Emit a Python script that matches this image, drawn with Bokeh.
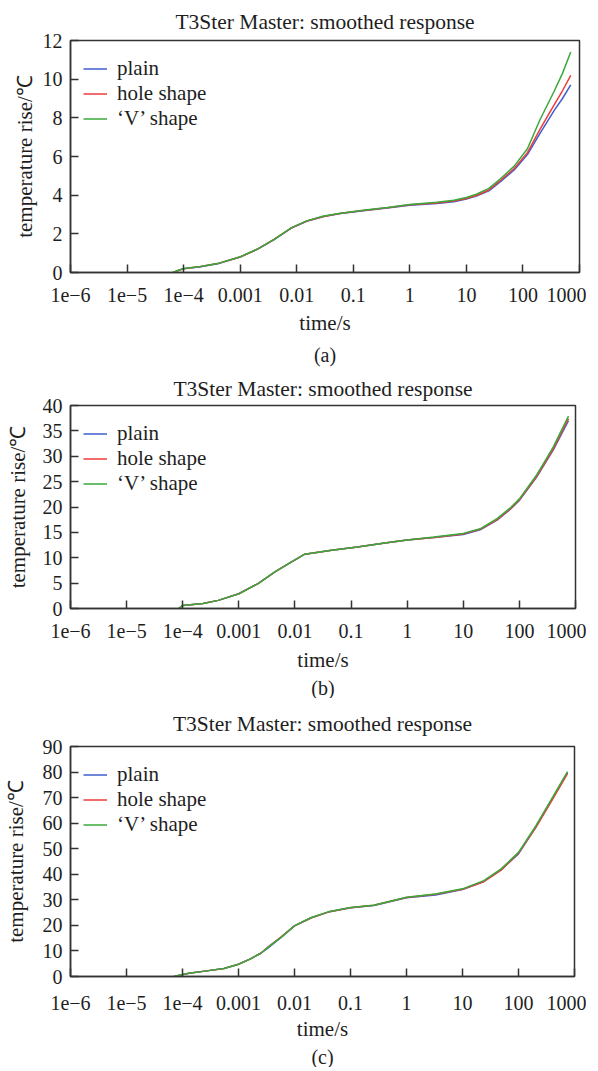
from bokeh.plotting import figure
from bokeh.layouts import column
from bokeh.models import FixedTicker, Title, CustomJSTickFormatter
from bokeh.embed import file_html
from bokeh.resources import INLINE

# ---------------- data ----------------
TITLE = "T3Ster Master: smoothed response"
SERIES = ["plain", "hole shape", "\u2018V\u2019 shape"]
COLORS = ["#3f5fcf", "#ee3b3b", "#3aa83a"]
X_TICKS = [1e-6, 1e-5, 1e-4, 1e-3, 1e-2, 1e-1, 1, 10, 100, 1000]
X_LABELS = ["1e\u22126", "1e\u22125", "1e\u22124", "0.001", "0.01", "0.1", "1", "10", "100", "1000"]
X_TITLE = "time/s"
Y_TITLE = "temperature rise/\u2103"
CAPTIONS = ["(a)", "(b)", "(c)"]

# panel (a)
tA = [6.5e-5, 8e-5, 1e-4, 2e-4, 4e-4, 1e-3, 2e-3, 4e-3, 8e-3, 0.015, 0.03, 0.06, 0.15, 0.4,
      1, 3, 6, 10, 15, 25, 40, 70, 120, 200, 360, 500, 700]
A_plain = [0.0, 0.1, 0.2, 0.3, 0.45, 0.8, 1.2, 1.7, 2.3, 2.65, 2.9, 3.05, 3.2, 3.33,
           3.48, 3.57, 3.66, 3.8, 3.95, 4.22, 4.7, 5.3, 6.1, 7.2, 8.4, 9.0, 9.7]
A_hole = [0.0, 0.1, 0.2, 0.31, 0.46, 0.8, 1.2, 1.72, 2.3, 2.66, 2.9, 3.06, 3.21, 3.35,
          3.5, 3.6, 3.7, 3.83, 3.98, 4.27, 4.76, 5.38, 6.2, 7.4, 8.7, 9.4, 10.2]
A_v = [0.0, 0.1, 0.21, 0.31, 0.46, 0.81, 1.21, 1.71, 2.31, 2.67, 2.92, 3.07, 3.22, 3.36,
       3.52, 3.63, 3.74, 3.88, 4.05, 4.35, 4.85, 5.5, 6.4, 7.9, 9.4, 10.3, 11.4]

# panel (b)
tB = [8.5e-5, 1e-4, 2.3e-4, 4.3e-4, 1e-3, 2.2e-3, 4.4e-3, 8.7e-3, 0.015, 0.026, 0.045, 0.13,
      0.4, 1, 3, 10, 20, 40, 70, 100, 200, 400, 750]
B_plain = [0.0, 0.6, 1.0, 1.6, 2.9, 4.9, 7.2, 9.2, 10.7, 11.1, 11.5, 12.1,
           12.9, 13.5, 14.0, 14.6, 15.5, 17.4, 19.6, 21.3, 25.8, 31.2, 37.0]
B_hole = [0.0, 0.6, 1.0, 1.6, 2.9, 4.9, 7.2, 9.2, 10.7, 11.1, 11.5, 12.1,
          12.9, 13.5, 14.0, 14.7, 15.6, 17.5, 19.7, 21.4, 25.9, 31.4, 37.4]
B_v = [0.0, 0.6, 1.0, 1.6, 2.9, 4.9, 7.2, 9.2, 10.7, 11.1, 11.5, 12.1,
       12.9, 13.5, 14.1, 14.8, 15.7, 17.7, 19.9, 21.6, 26.2, 31.8, 37.9]

# panel (c)
tC = [7e-5, 1.3e-4, 2.7e-4, 5.5e-4, 1e-3, 1.6e-3, 2.5e-3, 3.3e-3, 5.7e-3, 0.01, 0.02, 0.04,
      0.1, 0.26, 1, 3.3, 10, 24, 49, 100, 205, 420, 750]
C_plain = [0.0, 1.3, 2.2, 3.1, 4.8, 6.8, 9.1, 11.0, 15.2, 19.8, 23.0, 25.2,
           26.9, 27.8, 30.8, 31.9, 34.0, 37.2, 41.8, 48.0, 58.6, 70.3, 79.8]
C_hole = [0.0, 1.3, 2.2, 3.1, 4.8, 6.8, 9.1, 11.4, 15.4, 19.8, 23.0, 25.2,
          26.9, 27.9, 30.9, 32.2, 34.1, 37.1, 41.6, 48.3, 58.4, 69.9, 79.4]
C_v = [0.0, 1.3, 2.2, 3.1, 4.8, 6.8, 9.1, 11.3, 15.2, 19.9, 23.1, 25.3,
       27.0, 27.9, 31.0, 32.3, 34.3, 37.5, 42.1, 48.6, 59.0, 70.7, 80.2]

PANELS = [
    dict(t=tA, ys=[A_plain, A_hole, A_v], ymax=12, ystep=2),
    dict(t=tB, ys=[B_plain, B_hole, B_v], ymax=40, ystep=5),
    dict(t=tC, ys=[C_plain, C_hole, C_v], ymax=90, ystep=10),
]

# ---------------- layout / style ----------------
FONT = "Liberation Serif"
TXT = "#1e1e1e"
LINE = "#333333"
LAYOUT = [
    dict(fw=509, fh=232, right=16, top=40, ts=14, ys=3, xls=15, xas=6, cs=8),
    dict(fw=505, fh=203, right=13, top=32, ts=10, ys=10, xls=15, xas=7, cs=0),
    dict(fw=504, fh=230, right=12, top=45, ts=22, ys=12, xls=19, xas=4, cs=0),
]
LEGEND_TOP_GAP = 91   # legend box top offset + box height, in px

figs = []
for i, (pan, lay) in enumerate(zip(PANELS, LAYOUT)):
    p = figure(frame_width=lay["fw"], frame_height=lay["fh"],
               x_axis_type="log", x_range=(X_TICKS[0], X_TICKS[-1]),
               y_range=(0, pan["ymax"]),
               output_backend="svg", toolbar_location=None, title=TITLE,
               min_border_left=40, min_border_right=lay["right"],
               min_border_top=lay["top"], min_border_bottom=50)
    p.title.text_font = FONT
    p.title.text_font_size = "21.5px"
    p.title.text_font_style = "normal"
    p.title.text_color = TXT
    p.title.align = "center"
    p.title.standoff = lay["ts"]

    for name, col, ys in zip(SERIES, COLORS, pan["ys"]):
        p.line(pan["t"], ys, line_color=col, line_width=1.5, legend_label=name)

    p.xaxis.ticker = FixedTicker(ticks=X_TICKS)
    p.xaxis.formatter = CustomJSTickFormatter(
        args=dict(labels=X_LABELS),
        code="const e = Math.round(Math.log10(tick)); return labels[e + 6];")
    p.yaxis.ticker = FixedTicker(ticks=list(range(0, pan["ymax"] + 1, pan["ystep"])))
    p.xaxis.axis_label = X_TITLE
    p.yaxis.axis_label = Y_TITLE

    for ax in p.axis:
        ax.major_tick_in = 8
        ax.major_tick_out = 0
        ax.minor_tick_line_color = None
        ax.axis_line_color = LINE
        ax.axis_line_width = 1.5
        ax.major_tick_line_color = LINE
        ax.major_tick_line_width = 1.5
        ax.major_label_text_font = FONT
        ax.major_label_text_font_size = "20px"
        ax.major_label_text_color = TXT
        ax.axis_label_text_font = FONT
        ax.axis_label_text_font_size = "21px"
        ax.axis_label_text_font_style = "normal"
        ax.axis_label_text_color = TXT
    p.xaxis.major_label_standoff = lay["xls"]
    p.xaxis.axis_label_standoff = lay["xas"]
    p.yaxis.major_label_standoff = 8
    p.yaxis.axis_label_standoff = lay["ys"]

    p.xgrid.visible = False
    p.ygrid.visible = False
    p.outline_line_color = LINE
    p.outline_line_width = 1.5
    p.outline_line_alpha = 1.0

    p.legend.location = (13, lay["fh"] - LEGEND_TOP_GAP)
    p.legend.border_line_color = None
    p.legend.background_fill_alpha = 0
    p.legend.label_text_font = FONT
    p.legend.label_text_font_size = "21px"
    p.legend.label_text_color = TXT
    p.legend.glyph_width = 24
    p.legend.glyph_height = 25
    p.legend.label_height = 25
    p.legend.label_standoff = 10
    p.legend.spacing = 0
    p.legend.padding = 9
    p.legend.margin = 0

    cap = Title(text=CAPTIONS[i], align="center", text_font=FONT, text_font_size="20px",
                text_font_style="normal", text_color=TXT, standoff=lay["cs"])
    p.add_layout(cap, "below")
    figs.append(p)

layout = column(*figs, spacing=0)
open("out.html", "w").write(file_html(layout, INLINE))
